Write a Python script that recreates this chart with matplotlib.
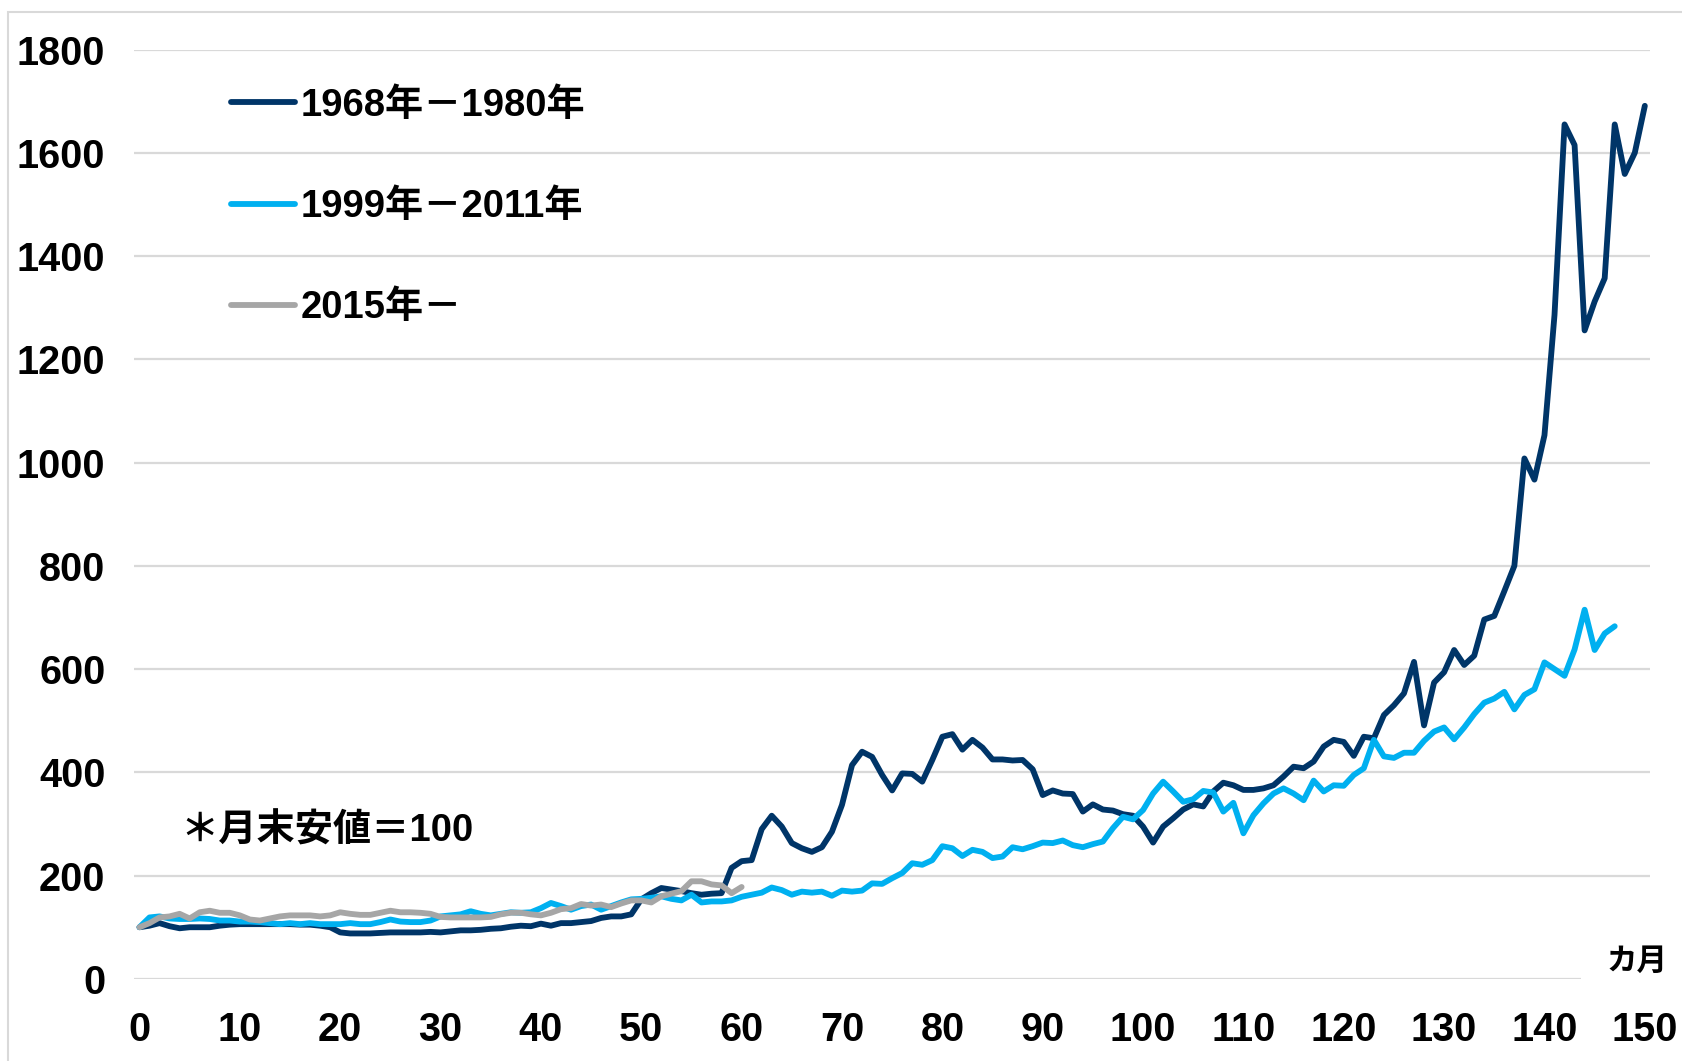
import numpy as np
import matplotlib
matplotlib.use('Agg')
import matplotlib.pyplot as plt
from matplotlib.font_manager import FontProperties
from matplotlib.patches import Rectangle

plt.rcParams['font.family'] = ['Liberation Sans', 'Noto Sans CJK JP']

# index, month-end low = 100
s1968 = [100, 103, 108, 102, 98, 100, 100, 100, 103, 105,
         106, 106, 106, 106, 106, 106, 105, 105, 103, 100,
         90, 88, 88, 88, 89, 90, 90, 90, 90, 91,
         90, 92, 94, 94, 95, 97, 98, 101, 103, 102,
         107, 103, 108, 108, 110, 112, 118, 121, 121, 125,
         154, 166, 176, 173, 170, 166, 163, 165, 166, 215,
         228, 230, 290, 316, 295, 263, 253, 246, 255, 285,
         337, 414, 440, 430, 395, 365, 398, 397, 382, 424,
         469, 474, 444, 463, 448, 425, 425, 423, 424, 406,
         356, 365, 359, 358, 324, 338, 328, 326, 319, 316,
         295, 264, 295, 311, 328, 338, 334, 363, 380, 375,
         366, 366, 369, 375, 392, 411, 408, 421, 450, 463,
         459, 432, 469, 466, 511, 530, 553, 614, 491, 574,
         594, 637, 608, 626, 696, 703, 751, 800, 1008, 967,
         1053, 1286, 1655, 1615, 1256, 1312, 1357, 1655, 1559, 1600, 1691]

s1999 = [100, 119, 121, 117, 116, 116, 117, 116, 113, 113,
         111, 111, 110, 108, 106, 108, 106, 108, 106, 106,
         106, 108, 106, 106, 110, 115, 111, 110, 110, 113,
         121, 123, 125, 131, 126, 123, 126, 129, 128, 129,
         137, 147, 141, 134, 141, 144, 134, 141, 148, 154,
         155, 157, 160, 155, 152, 163, 148, 150, 150, 152,
         159, 163, 167, 177, 172, 163, 169, 167, 169, 161,
         171, 169, 171, 185, 184, 195, 205, 224, 221, 230,
         257, 253, 238, 250, 246, 234, 237, 255, 251, 257,
         264, 263, 268, 259, 255, 261, 266, 292, 314, 309,
         327, 359, 382, 363, 343, 348, 364, 361, 324, 341,
         282, 317, 340, 359, 369, 359, 346, 384, 363, 375,
         374, 395, 408, 463, 431, 428, 438, 438, 461, 479,
         487, 464, 487, 513, 535, 543, 556, 522, 550, 561,
         613, 600, 587, 638, 715, 637, 669, 683]

s2015 = [100, 108, 119, 121, 126, 117, 129, 132, 128, 128,
         123, 115, 113, 117, 121, 123, 123, 123, 121, 123,
         129, 126, 124, 124, 128, 132, 129, 129, 128, 126,
         120, 119, 119, 119, 119, 120, 125, 128, 128, 125,
         123, 128, 135, 137, 145, 142, 144, 139, 146, 152,
         152, 148, 160, 165, 170, 189, 189, 183, 181, 166, 178]

labels = ['1968年－1980年', '1999年－2011年', '2015年－']
colors = ['#003568', '#00b0f0', '#a6a6a6']
xticks = list(range(0, 151, 10))
yticks = list(range(0, 1801, 200))

fig = plt.figure(figsize=(16.83, 10.61), dpi=100)
fig.patches.append(Rectangle((8 / 1683, -0.01), 1.1, 1 - 12 / 1061 + 0.01,
                             transform=fig.transFigure, fill=False,
                             edgecolor='#d9d9d9', linewidth=1.5))
ax = fig.add_axes([0.0799, 0.0774, 0.9004, 0.8759])

ax.hlines(yticks[1:], -0.5, 150.5, color='#d9d9d9', lw=1.6, zorder=0)
ax.hlines(0, -0.5, 143.6, color='#d9d9d9', lw=1.6, zorder=0)

for s, c, lab in zip([s1968, s1999, s2015], colors, labels):
    ax.plot(np.arange(len(s)), s, color=c, lw=4.2, label=lab,
            solid_capstyle='round', solid_joinstyle='round')

ax.set_xlim(-0.5, 150.5)
ax.set_ylim(0, 1800)
ax.set_xticks(xticks)
ax.set_yticks(yticks)
for sp in ax.spines.values():
    sp.set_visible(False)
ax.tick_params(length=0, labelsize=28.5)
ax.tick_params(axis='x', pad=23)
ax.tick_params(axis='y', pad=21)
for t in ax.get_xticklabels() + ax.get_yticklabels():
    t.set_fontweight('bold')

fp = FontProperties(family=['Liberation Sans', 'Noto Sans CJK JP'], weight='bold', size=27.5)
ax.legend(loc='upper left', bbox_to_anchor=(0.1373, 0.9174), bbox_transform=fig.transFigure,
          frameon=False, prop=fp, labelspacing=1.71, handlelength=1.68,
          handletextpad=0.13, borderpad=0, borderaxespad=0)

ax.text(4.1, 285, '＊月末安値＝100', fontproperties=fp, ha='left', va='center')
ax.text(149.2, 35, 'カ月', family=['Noto Sans CJK JP'], weight='bold', fontsize=22,
        ha='center', va='center')

fig.savefig('out.png', dpi=100)
